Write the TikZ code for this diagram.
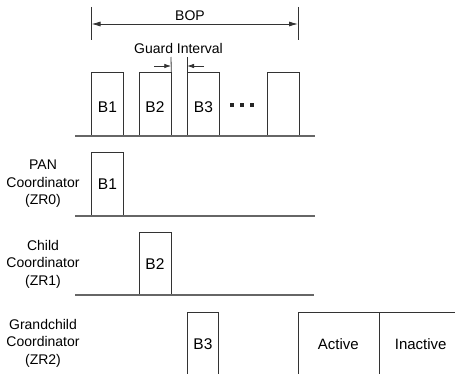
\documentclass[tikz,border=0pt]{standalone}
\usepackage{fontspec}
\setmainfont{Liberation Sans}
\usetikzlibrary{arrows.meta}
\begin{document}
\begin{tikzpicture}[x=1pt,y=-1pt,
  font=\fontsize{14}{17.5}\selectfont,
  box/.style={draw=black!80, line width=0.8pt, minimum width=32pt, minimum height=64pt, inner sep=0pt, anchor=north west, font=\fontsize{15.5}{18}\selectfont},
  baseln/.style={draw=black!60, line width=1.1pt},
  thin/.style={draw=black!80, line width=0.8pt},
  arr/.style={draw=black!80, line width=0.8pt, -{Latex[length=7pt,width=4.5pt]}},
  lbl/.style={align=center, inner sep=0pt},
  blbl/.style={inner sep=0pt, font=\fontsize{15.5}{18}\selectfont}]
\clip (0,0) rectangle (455,374);

% BOP
\coordinate (tl) at (91.5,7);
\coordinate (tlb) at (91.5,40);
\coordinate (tr) at (298,7);
\coordinate (trb) at (298,40);
\draw[thin] (tl) -- (tlb);
\draw[thin] (tr) -- (trb);
\coordinate (bl) at (91.5,24);
\coordinate (br) at (298,24);
\draw[thin, {Latex[length=9pt,width=5pt]}-{Latex[length=9pt,width=5pt]}] (bl) -- (br);
\node[lbl] (bop) at (190,16) {BOP};
\node[lbl] (gi) at (178.5,48) {Guard Interval};

% top row
\node[box] (t1) at (91,72) {};
\node[box] (t2) at (138.5,72) {};
\node[box] (t3) at (187,72) {};
\node[box] (t4) at (266.5,72) {};
\node[blbl] (t1l) at ([yshift=-3pt]t1.center) {B1};
\node[blbl] (t2l) at ([yshift=-3pt]t2.center) {B2};
\node[blbl] (t3l) at ([yshift=-3pt]t3.center) {B3};
\foreach \x [count=\i] in {232,242,252} {
  \fill[black!85] (\x-1.6,103.4) rectangle (\x+1.6,106.6);
}
\coordinate (b0s) at (75,136);
\coordinate (b0e) at (315,136);
\draw[baseln] (b0s) -- (b0e);

% guard interval marks
\coordinate (g1) at (171,57);
\coordinate (g2) at (187,57);
\draw[thin] (t2.north east) -- (g1);
\draw[thin] (t3.north west) -- (g2);
\coordinate (ga) at (154,66);
\coordinate (gb) at (204,66);
\draw[arr] (ga) -- (t2.east |- ga);
\draw[arr] (gb) -- (t3.west |- gb);

% PAN row
\node[lbl] (pan) at (43,184) {PAN\\Coordinator\\(ZR0)};
\node[box] (p1) at (91,152) {B1};
\coordinate (b1s) at (75,216);
\coordinate (b1e) at (315,216);
\draw[baseln] (b1s) -- (b1e);

% Child row
\node[lbl] (child) at (43,264) {Child\\Coordinator\\(ZR1)};
\node[box, minimum height=63pt] (c2) at (138.5,232) {B2};
\coordinate (b2s) at (75,295);
\coordinate (b2e) at (314,295);
\draw[baseln] (b2s) -- (b2e);

% Grandchild row
\node[lbl] (gc) at (43,343) {Grandchild\\Coordinator\\(ZR2)};
\node[box, minimum width=31pt] (g3) at (187,312) {B3};
\node[box, minimum width=81pt, font=\fontsize{15}{17}\selectfont] (act) at (297.5,312) {Active};
\node[box, minimum width=82pt, font=\fontsize{15}{17}\selectfont] (inact) at (act.north east) {Inactive};
\end{tikzpicture}
\end{document}
